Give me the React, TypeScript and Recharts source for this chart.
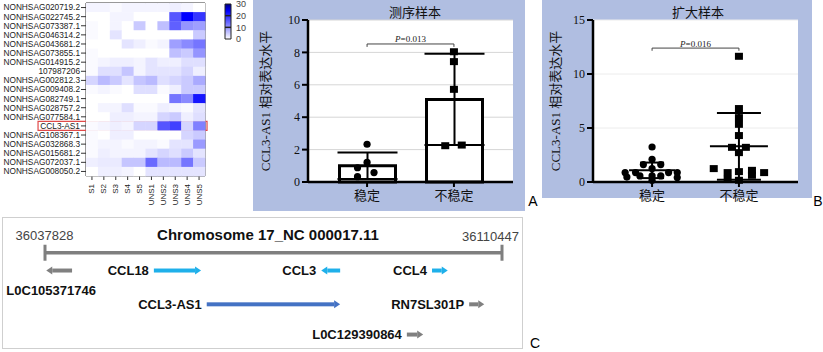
import React from 'react';
import {
  ComposedChart,
  ScatterChart,
  BarChart,
  Bar,
  Scatter,
  XAxis,
  YAxis,
  CartesianGrid,
  ErrorBar,
  ReferenceLine,
  ReferenceArea,
} from 'recharts';

// heatmap
const heatRows = [
  'NONHSAG020719.2', 'NONHSAG022745.2', 'NONHSAG073387.1', 'NONHSAG046314.2', 'NONHSAG043681.2',
  'NONHSAG073855.1', 'NONHSAG014915.2', '107987206', 'NONHSAG002812.3', 'NONHSAG009408.2',
  'NONHSAG082749.1', 'NONHSAG028757.2', 'NONHSAG077584.1', 'CCL3-AS1', 'NONHSAG108367.1',
  'NONHSAG032868.3', 'NONHSAG015681.2', 'NONHSAG072037.1', 'NONHSAG008050.2',
];
const heatCols = ['S1', 'S2', 'S3', 'S4', 'S5', 'UNS1', 'UNS2', 'UNS3', 'UNS4', 'UNS5'];
const heatValues = [
  [1, 1, 0.5, 1, 1, 1, 1, 1.5, 1, 0],
  [0, 0, 1, 1, 0, 0, 0, 16, 24, 19],
  [0.5, 0, 1, 0, 5, 0, 6, 15, 10, 9],
  [0.5, 0, 2.5, 0, 0, 0, 0, 0, 0, 5],
  [0, 0, 0, 2.5, 1.5, 0.5, 1, 9, 11, 13],
  [0.5, 0, 0, 0, 0, 0, 0, 6, 5, 10],
  [0.5, 1, 1.5, 1.5, 1, 2.5, 1.5, 1.5, 3, 3],
  [0.5, 3, 3, 5.5, 1, 2.5, 2.5, 2.5, 4, 1.5],
  [4, 6.5, 5, 2.5, 5.5, 6.5, 3, 4, 5, 8],
  [0.5, 1, 0.5, 0, 3, 3, 0.5, 1.5, 5, 5],
  [0, 0, 0, 0, 0, 0, 0, 13, 11, 22],
  [0, 1, 1, 3, 0.5, 0.5, 1.5, 1, 0.5, 2.5],
  [0, 0, 1.5, 1.5, 1, 1, 4, 5, 1.5, 3],
  [0.5, 1, 1.5, 1, 4, 4, 16, 18, 4, 12],
  [0.5, 0, 1.5, 1.5, 0, 0, 0, 0, 4, 5],
  [0.5, 1, 1, 0.5, 1, 1, 0.5, 2.5, 2.5, 9.5],
  [0.5, 1.5, 1, 1, 1, 2.5, 4, 3, 5, 2.5],
  [1.5, 2, 2, 5.5, 5.5, 14, 6.5, 6.5, 13, 5],
  [0, 1.5, 1.5, 1, 0, 2.5, 2.5, 2.5, 2.5, 2.5],
];
const highlightRow = 'CCL3-AS1';
const colorbarTicks = [0, 10, 20, 30];

// panel A: sequencing samples
const groups = ['稳定', '不稳定'];
const seqMean = [1.0, 5.1];
const seqSd = [0.82, 2.82];
const seqStable = [2.33, 1.21, 0.88, 0.58, 0.33];
const seqStableJitter = [0, 0, -0.11, 0.08, -0.11];
const seqUnstable = [8.04, 7.43, 5.72, 2.24, 2.28];
const seqUnstableJitter = [0, 0, 0, -0.1, 0.09];
const seqTicks = [0, 2, 4, 6, 8, 10];
const seqP = '0.013';
const seqBracket = 8.52;

// panel B: expanded samples
const extMean = [1.08, 3.3];
const extSd = [0.72, 3.1];
const extStable = [3.24, 2.1, 1.61, 1.61, 0.87, 0.87, 1.24, 0.87, 0.87, 0.46, 0.56, 0.56, 0.56, 0.41, 0.16];
const extStableJitter = [0, 0, -0.1, 0.1, -0.31, -0.19, 0, 0.19, 0.29, -0.29, -0.14, 0, 0.1, 0.29, 0];
const extUnstable = [11.64, 6.8, 5.96, 5.34, 4.3, 3.21, 3.21, 2.72, 1.24, 0.87, 0.96, 1.08, 0.62, 0.87, 0.25, 0.16];
const extUnstableJitter = [0, 0, 0, 0, 0, -0.08, 0.08, 0, -0.29, -0.13, 0, 0.15, 0.15, 0.29, -0.13, 0];
const extTicks = [0, 5, 10, 15];
const extP = '0.016';
const extBracket = 12.4;

// panel C: gene map (kb from region start)
const regionStart = 36037828;
const regionEnd = 36110447;
const geneNames = ['L0C105371746', 'CCL18', 'CCL3', 'CCL4', 'CCL3-AS1', 'RN7SL301P', 'L0C129390864'];
const geneStart = [0.2, 17.3, 43.9, 61.5, 25.7, 67.4, 57.5];
const geneEnd = [4.3, 24.8, 46.9, 64.0, 46.9, 69.8, 60.1];
const geneStrand = ['-', '+', '-', '+', '+', '+', '+'];
const geneTrack = [1, 1, 1, 1, 2.9, 2.9, 4.6];
const geneKind = ['other', 'chemokine', 'chemokine', 'chemokine', 'target', 'other', 'other'];

const SERIF = '"Liberation Serif", "Noto Sans CJK SC", serif';
const SANS = '"Liberation Sans", Arial, sans-serif';
const PANEL_BG = '#b0bee1';
const KIND_COLOR: Record<string, string> = { other: '#808080', chemokine: '#1fb0ea', target: '#4472c4' };

const heatColor = (v: number) => {
  const t = Math.min(v, 30) / 30;
  if (t <= 0.8) {
    const c = Math.round(255 * (1 - t / 0.8));
    return `rgb(${c},${c},255)`;
  }
  return `rgb(0,0,${Math.round(255 - 127 * ((t - 0.8) / 0.2))})`;
};

const Txt = ({ x, y, size = 13, children, style }: any) => (
  <div
    style={{
      position: 'absolute',
      left: x,
      top: y,
      transform: 'translate(-50%, -50%)',
      whiteSpace: 'nowrap',
      lineHeight: 1,
      fontSize: size,
      ...style,
    }}
  >
    {children}
  </div>
);

// ---------- heatmap ----------
const HEAT_W = 215;
const HEAT_H = 210;
const HEAT_M = { top: 3, right: 10, bottom: 0, left: 0 };
const HEAT_YW = 86;
const HEAT_XH = 34;
const cellW = (HEAT_W - HEAT_YW - HEAT_M.right) / heatCols.length;
const cellH = (HEAT_H - HEAT_M.top - HEAT_XH) / heatRows.length;

const ColTick = (props: any) => {
  const { x, y, payload } = props;
  return (
    <text
      x={x}
      y={y}
      transform={`rotate(-90, ${x}, ${y})`}
      textAnchor="end"
      dominantBaseline="central"
      fontSize={8}
      fontFamily={SANS}
      fill="#222"
    >
      {heatCols[Math.floor(payload.value)]}
    </text>
  );
};

function Heatmap() {
  const cells = heatValues.flatMap((row, r) => row.map((v, c) => ({ x: c + 0.5, y: r + 0.5, v })));
  const hi = heatRows.indexOf(highlightRow);
  return (
    <ScatterChart width={HEAT_W} height={HEAT_H} margin={HEAT_M}>
      <XAxis
        type="number"
        dataKey="x"
        domain={[0, heatCols.length]}
        ticks={heatCols.map((_, i) => i + 0.5)}
        interval={0}
        height={HEAT_XH}
        axisLine={false}
        tickLine={{ stroke: '#333' }}
        tickSize={4}
        tickMargin={4}
        tick={<ColTick />}
      />
      <YAxis
        type="number"
        dataKey="y"
        domain={[0, heatRows.length]}
        reversed
        ticks={heatRows.map((_, i) => i + 0.5)}
        interval={0}
        width={HEAT_YW}
        axisLine={false}
        tickLine={{ stroke: '#333' }}
        tickSize={5}
        tickMargin={1}
        tickFormatter={(v: number) => heatRows[Math.floor(v)]}
        tick={{ fontSize: 8.3, fill: '#222', fontFamily: SANS }}
      />
      <Scatter
        data={cells}
        isAnimationActive={false}
        shape={(p: any) => (
          <rect
            x={p.cx - cellW / 2}
            y={p.cy - cellH / 2}
            width={cellW + 0.4}
            height={cellH + 0.4}
            fill={heatColor(p.payload.v)}
          />
        )}
      />
      <ReferenceArea x1={0} x2={heatCols.length} y1={0} y2={heatRows.length} fill="none" stroke="#333" strokeWidth={1} />
      <ReferenceArea
        x1={-4.03}
        x2={10.17}
        y1={hi}
        y2={hi + 1}
        ifOverflow="visible"
        fill="none"
        stroke="#e04a4a"
        strokeWidth={1.2}
      />
    </ScatterChart>
  );
}

function Colorbar() {
  return (
    <BarChart width={40} height={45} data={[{ v: 30 }]} margin={{ top: 4, right: 0, bottom: 6, left: 4 }} barCategoryGap={0}>
      <defs>
        <linearGradient id="cbar" x1="0" y1="1" x2="0" y2="0">
          <stop offset="0%" stopColor={heatColor(0)} />
          <stop offset="80%" stopColor={heatColor(24)} />
          <stop offset="100%" stopColor={heatColor(30)} />
        </linearGradient>
      </defs>
      <XAxis hide />
      <YAxis
        orientation="right"
        domain={[0, 30]}
        ticks={colorbarTicks}
        interval={0}
        width={30}
        axisLine={false}
        tickLine={false}
        tickSize={3}
        tickMargin={2}
        tick={{ fontSize: 9, fill: '#444', fontFamily: SANS }}
      />
      <Bar dataKey="v" fill="url(#cbar)" stroke="#222" strokeWidth={1} isAnimationActive={false} />
      <ReferenceLine y={10} stroke="#222" strokeWidth={1.5} />
      <ReferenceLine y={20} stroke="#222" strokeWidth={1.5} />
    </BarChart>
  );
}

// ---------- dot panels ----------
const pLabel = (text: string) => (props: any) => {
  const vb = props.viewBox || {};
  return (
    <text x={vb.x + (vb.width || 0) / 2} y={vb.y - 1.5} textAnchor="middle" fontSize={9} fontFamily={SERIF} fill="#222">
      <tspan fontStyle="italic">P</tspan>={text}
    </text>
  );
};

const dotShape = (p: any) => <circle cx={p.cx} cy={p.cy} r={3.6} fill="#000" />;
const squareShape = (p: any) => <rect x={p.cx - 4} y={p.cy - 3.5} width={8} height={7} fill="#000" />;
const meanShape = (w: number) => (p: any) => (
  <line x1={p.cx - w / 2} x2={p.cx + w / 2} y1={p.cy} y2={p.cy} stroke="#000" strokeWidth={2} />
);

const axisCommon = {
  axisLine: { stroke: '#000', strokeWidth: 2.5 },
  tickLine: { stroke: '#000', strokeWidth: 2 },
};

// plot area is 205px wide, group centres 87px apart
const GROUP_DOMAIN = [0.32, 2.68];
const CAT_PAD = 15.5;

function SeqPanel() {
  const bars = groups.map((g, i) => ({ g, x: i + 1, mean: seqMean[i], sd: seqSd[i] }));
  const stable = seqStable.map((y, i) => ({ x: 1 + seqStableJitter[i], y }));
  const unstable = seqUnstable.map((y, i) => ({ x: 2 + seqUnstableJitter[i], y }));
  return (
    <ComposedChart width={272} height={211} data={bars} margin={{ top: 20, right: 12, bottom: 0, left: 0 }}>
      <CartesianGrid vertical={false} fill="#fff" stroke="#d6d6d6" xAxisId="num" />
      <XAxis
        xAxisId="cat"
        type="category"
        dataKey="g"
        hide
        orientation="top"
        height={0}
        padding={{ left: CAT_PAD, right: CAT_PAD }}
      />
      <XAxis
        xAxisId="num"
        type="number"
        dataKey="x"
        domain={GROUP_DOMAIN}
        ticks={[1, 2]}
        interval={0}
        height={29}
        tickSize={5}
        tickMargin={4}
        tickFormatter={(v: number) => groups[v - 1]}
        tick={{ fontSize: 13, fill: '#111', fontFamily: SERIF }}
        {...axisCommon}
      />
      <YAxis
        type="number"
        domain={[0, 10]}
        ticks={seqTicks}
        interval={0}
        width={55}
        tickSize={6}
        tickMargin={2}
        tick={{ fontSize: 12, fill: '#111', fontFamily: SERIF }}
        label={{
          value: 'CCL3-AS1 相对表达水平',
          angle: -90,
          position: 'insideLeft',
          offset: 12,
          style: { textAnchor: 'middle', fontSize: 13, fill: '#111', fontFamily: SERIF },
        }}
        {...axisCommon}
      />
      <Bar xAxisId="cat" dataKey="mean" barSize={56} fill="#fff" stroke="#000" strokeWidth={3} isAnimationActive={false}>
        <ErrorBar dataKey="sd" direction="y" width={30} stroke="#000" strokeWidth={2} />
      </Bar>
      <Scatter xAxisId="num" data={stable} dataKey="y" shape={dotShape} isAnimationActive={false} />
      <Scatter xAxisId="num" data={unstable} dataKey="y" shape={squareShape} isAnimationActive={false} />
      <ReferenceLine xAxisId="num" segment={[{ x: 1, y: seqBracket }, { x: 2, y: seqBracket }]} stroke="#444" label={pLabel(seqP)} />
      <ReferenceLine xAxisId="num" segment={[{ x: 1, y: seqBracket }, { x: 1, y: seqBracket - 0.18 }]} stroke="#444" />
      <ReferenceLine xAxisId="num" segment={[{ x: 2, y: seqBracket }, { x: 2, y: seqBracket - 0.18 }]} stroke="#444" />
    </ComposedChart>
  );
}

function ExtPanel() {
  const stable = extStable.map((y, i) => ({ x: 1 + extStableJitter[i], y }));
  const unstable = extUnstable.map((y, i) => ({ x: 2 + extUnstableJitter[i], y }));
  const meanS = [{ x: 1, y: extMean[0], sd: extSd[0] }];
  const meanU = [{ x: 2, y: extMean[1], sd: extSd[1] }];
  return (
    <ComposedChart width={270} height={211} margin={{ top: 20, right: 14, bottom: 0, left: 0 }}>
      <CartesianGrid vertical={false} fill="#fff" stroke="#ececec" />
      <XAxis
        type="number"
        dataKey="x"
        domain={GROUP_DOMAIN}
        ticks={[1, 2]}
        interval={0}
        height={29}
        tickSize={5}
        tickMargin={4}
        tickFormatter={(v: number) => groups[v - 1]}
        tick={{ fontSize: 13, fill: '#111', fontFamily: SERIF }}
        {...axisCommon}
      />
      <YAxis
        type="number"
        domain={[0, 15]}
        ticks={extTicks}
        interval={0}
        width={51}
        tickSize={6}
        tickMargin={2}
        tick={{ fontSize: 12, fill: '#111', fontFamily: SERIF }}
        label={{
          value: 'CCL3-AS1 相对表达水平',
          angle: -90,
          position: 'insideLeft',
          offset: 13,
          style: { textAnchor: 'middle', fontSize: 13, fill: '#111', fontFamily: SERIF },
        }}
        {...axisCommon}
      />
      <Scatter data={meanS} dataKey="y" shape={meanShape(46)} isAnimationActive={false}>
        <ErrorBar dataKey="sd" direction="y" width={12} stroke="#000" strokeWidth={2} />
      </Scatter>
      <Scatter data={meanU} dataKey="y" shape={meanShape(58)} isAnimationActive={false}>
        <ErrorBar dataKey="sd" direction="y" width={22} stroke="#000" strokeWidth={2} />
      </Scatter>
      <Scatter data={stable} dataKey="y" shape={dotShape} isAnimationActive={false} />
      <Scatter data={unstable} dataKey="y" shape={squareShape} isAnimationActive={false} />
      <ReferenceLine segment={[{ x: 1, y: extBracket }, { x: 2, y: extBracket }]} stroke="#444" label={pLabel(extP)} />
      <ReferenceLine segment={[{ x: 1, y: extBracket }, { x: 1, y: extBracket - 0.25 }]} stroke="#444" />
      <ReferenceLine segment={[{ x: 2, y: extBracket }, { x: 2, y: extBracket - 0.25 }]} stroke="#444" />
    </ComposedChart>
  );
}

// ---------- gene map ----------
const spanKb = (regionEnd - regionStart) / 1000;

const geneShape = (i: number) => (p: any) => {
  const { x, y, width, height } = p;
  const cy = y + height / 2;
  const color = KIND_COLOR[geneKind[i]];
  const head = 6;
  const right = geneStrand[i] === '+';
  const shaft = right
    ? <rect x={x} y={cy - 2} width={Math.max(width - head, 0)} height={4} fill={color} />
    : <rect x={x + head} y={cy - 2} width={Math.max(width - head, 0)} height={4} fill={color} />;
  const tip = right
    ? `${x + width - head},${cy - 4} ${x + width},${cy} ${x + width - head},${cy + 4}`
    : `${x + head},${cy - 4} ${x},${cy} ${x + head},${cy + 4}`;
  const below = i === 0;
  return (
    <g>
      {shaft}
      <polygon points={tip} fill={color} />
      <text
        x={below ? x + width / 2 - 8 : x - 5}
        y={below ? cy + 20 : cy}
        textAnchor={below ? 'middle' : 'end'}
        dominantBaseline="central"
        fontSize={13}
        fontWeight="bold"
        fontFamily={SANS}
        fill="#111"
      >
        {geneNames[i]}
      </text>
    </g>
  );
};

function GeneMap() {
  const backbone = [{ x: 0, y: 0 }, { x: spanKb, y: 0 }];
  return (
    <ComposedChart width={540} height={140} margin={{ top: 0, right: 38, bottom: 0, left: 45 }}>
      <XAxis type="number" dataKey="x" domain={[0, spanKb]} hide />
      <YAxis type="number" dataKey="y" domain={[-2.29, 5.58]} reversed hide />
      <Scatter
        data={backbone}
        dataKey="y"
        isAnimationActive={false}
        line={{ stroke: '#7f7f7f', strokeWidth: 3.5 }}
        shape={(p: any) => <line x1={p.cx} x2={p.cx} y1={p.cy - 8} y2={p.cy + 8} stroke="#7f7f7f" strokeWidth={3} />}
      />
      {geneNames.map((g, i) => (
        <ReferenceArea
          key={g}
          x1={geneStart[i]}
          x2={geneEnd[i]}
          y1={geneTrack[i] - 0.3}
          y2={geneTrack[i] + 0.3}
          shape={geneShape(i)}
        />
      ))}
    </ComposedChart>
  );
}

export default function App() {
  return (
    <div style={{ position: 'absolute', left: 0, top: 0, width: 823, height: 352, background: '#fff', fontFamily: SANS, overflow: 'hidden' }}>
      <div style={{ position: 'absolute', left: 0, top: 0 }}>
        <Heatmap />
      </div>
      <div style={{ position: 'absolute', left: 221, top: 0 }}>
        <Colorbar />
      </div>

      <div style={{ position: 'absolute', left: 253, top: 0, width: 272, height: 211, background: PANEL_BG }} />
      <div style={{ position: 'absolute', left: 253, top: 0 }}>
        <SeqPanel />
      </div>
      <Txt x={415} y={12} style={{ fontFamily: SERIF, color: '#111' }}>测序样本</Txt>
      <Txt x={533} y={201} size={14}>A</Txt>

      <div style={{ position: 'absolute', left: 542, top: 0, width: 270, height: 198, background: PANEL_BG }} />
      <div style={{ position: 'absolute', left: 542, top: 0 }}>
        <ExtPanel />
      </div>
      <Txt x={698} y={12} style={{ fontFamily: SERIF, color: '#111' }}>扩大样本</Txt>
      <Txt x={818} y={201} size={14}>B</Txt>

      <div style={{ position: 'absolute', left: 2, top: 217, width: 521, height: 132, border: '1.5px solid #cfcfcf', boxSizing: 'border-box' }} />
      <div style={{ position: 'absolute', left: 0, top: 212 }}>
        <GeneMap />
      </div>
      <Txt x={44.5} y={235} style={{ color: '#444' }}>{String(regionStart)}</Txt>
      <Txt x={490.5} y={236} style={{ color: '#444' }}>{String(regionEnd)}</Txt>
      <Txt x={268} y={234} size={15} style={{ fontWeight: 'bold', color: '#111' }}>Chromosome 17_NC 000017.11</Txt>
      <Txt x={535} y={343} size={14}>C</Txt>
    </div>
  );
}
